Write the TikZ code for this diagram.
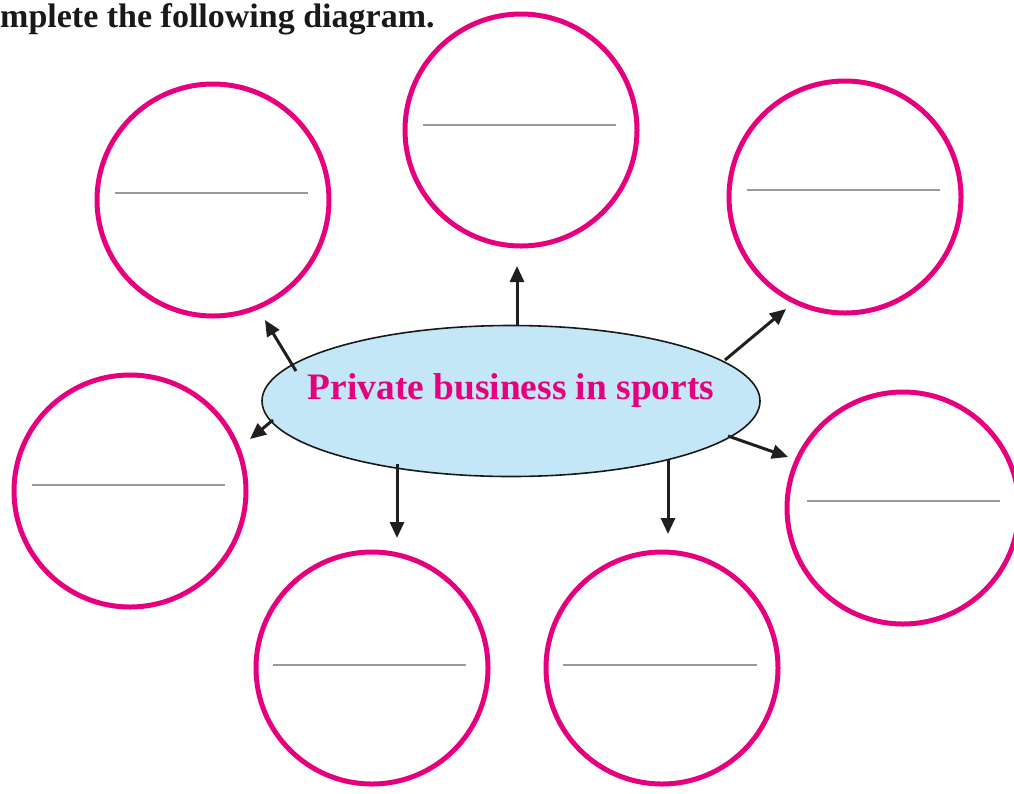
\documentclass[tikz,border=0pt]{standalone}
\usepackage{fontspec}
\setmainfont{Liberation Serif}
\usetikzlibrary{arrows.meta,shapes.geometric}
\definecolor{mag}{HTML}{E6007E}
\definecolor{lblue}{HTML}{C4E7F8}
\definecolor{lgray}{HTML}{9A9A9A}
\tikzset{
  blank/.style={circle, draw=mag, line width=5pt, minimum size=232pt, inner sep=0pt},
  hub/.style={ellipse, draw=black!90, fill=lblue, line width=1.6pt, minimum width=498pt, minimum height=151pt, inner sep=0pt},
  wline/.style={draw=lgray, line width=1.6pt},
  arr/.style={draw=black!88, line width=3pt, -{Triangle[length=16pt,width=14pt]}},
}
\begin{document}
\begin{tikzpicture}[x=1pt,y=-1pt]
\useasboundingbox (0,0) rectangle (1014,793);
\node[anchor=base west, font=\bfseries\fontsize{34}{38}\selectfont, text=black!90, inner sep=0pt] (title) at (0,27) {mplete the following diagram.};
\node[hub] (hub) at (511,401) {};
\node[text=mag, font=\bfseries\fontsize{37.4}{42}\selectfont] (hubtext) at (511,390) {Private business in sports};
\node[blank] (c1) at (213,200) {};
\node[blank] (c2) at (521,130) {};
\node[blank] (c3) at (845,197) {};
\node[blank] (c4) at (130,491) {};
\node[blank] (c5) at (903,508) {};
\node[blank] (c6) at (372,668) {};
\node[blank] (c7) at (662,668) {};
\draw[wline] ([shift={(-98,-7)}]c1.center) -- ([shift={(95,-7)}]c1.center);
\draw[wline] ([shift={(-98,-5)}]c2.center) -- ([shift={(95,-5)}]c2.center);
\draw[wline] ([shift={(-98,-7)}]c3.center) -- ([shift={(95,-7)}]c3.center);
\draw[wline] ([shift={(-98,-6)}]c4.center) -- ([shift={(95,-6)}]c4.center);
\draw[wline] ([shift={(-96,-7)}]c5.center) -- ([shift={(97,-7)}]c5.center);
\draw[wline] ([shift={(-99,-3)}]c6.center) -- ([shift={(94,-3)}]c6.center);
\draw[wline] ([shift={(-99,-3)}]c7.center) -- ([shift={(95,-3)}]c7.center);
\coordinate (a1s) at (296,371); \coordinate (a1e) at (265,320);
\coordinate (a2s) at (517,326); \coordinate (a2e) at (517,266);
\coordinate (a3s) at (725,360); \coordinate (a3e) at (786,309);
\coordinate (a4s) at (273,420); \coordinate (a4e) at (250,439);
\coordinate (a5s) at (728,436); \coordinate (a5e) at (788,457);
\coordinate (a6s) at (397,464); \coordinate (a6e) at (397,538);
\coordinate (a7s) at (668,460); \coordinate (a7e) at (668,534);
\foreach \i in {1,...,7} {\draw[arr] (a\i s) -- (a\i e);}
\end{tikzpicture}
\end{document}
